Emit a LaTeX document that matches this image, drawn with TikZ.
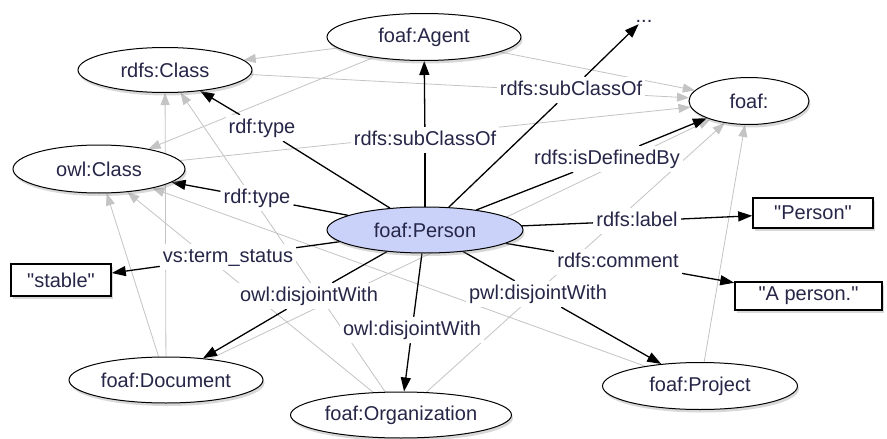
\documentclass[tikz,border=0pt]{standalone}
\usepackage{fontspec}
\setmainfont{Liberation Sans}[Ligatures=TeXOff]
\usetikzlibrary{shapes.geometric,arrows.meta,shadows}
\pgfdeclarelayer{bglayer}
\pgfdeclarelayer{graylayer}
\pgfdeclarelayer{blacklayer}
\pgfsetlayers{bglayer,graylayer,blacklayer,main}
\definecolor{txt}{RGB}{38,38,72}
\definecolor{edgegray}{RGB}{196,196,196}
\definecolor{personfill}{RGB}{202,210,250}
\begin{document}
\begin{tikzpicture}[x=1pt,y=-1pt,
  font=\fontsize{20}{24}\selectfont,
  every node/.style={text=txt},
  cls/.style={ellipse,draw=black,line width=1pt,fill=white,inner sep=0pt,
    drop shadow={shadow xshift=1.5pt,shadow yshift=-3pt,opacity=0.3}},
  lit/.style={rectangle,draw=black,line width=1.6pt,fill=white,inner sep=0pt,
    drop shadow={shadow xshift=2pt,shadow yshift=-3pt,opacity=0.3}},
  lbl/.style={fill=white,inner xsep=3pt,inner ysep=4pt,text height=14pt,text depth=4pt},
  grayedge/.style={draw=edgegray,line width=0.8pt,-{Triangle[length=12pt,width=9pt]}},
  blkline/.style={draw=black,line width=1.3pt},
  blkarrow/.style={blkline,-{Triangle[length=14pt,width=10pt]}}
]
\begin{pgfonlayer}{bglayer}
\fill[white] (0,0) rectangle (887,439);
\end{pgfonlayer}
\useasboundingbox (0,0) rectangle (887,439);

% class nodes
\node[cls,minimum width=194pt,minimum height=47pt] (agent) at (424,37) {foaf:Agent};
\node[cls,minimum width=174pt,minimum height=45pt] (rc) at (165,70) {rdfs:Class};
\node[cls,minimum width=172pt,minimum height=48pt] (oc) at (99,169) {owl:Class};
\node[cls,minimum width=120pt,minimum height=47pt] (foaf) at (749,101) {foaf:};
\node[cls,fill=personfill,minimum width=196pt,minimum height=46pt] (person) at (425,230) {foaf:Person};
\node[cls,minimum width=194pt,minimum height=46pt] (doc) at (166,380) {foaf:Document};
\node[cls,minimum width=221pt,minimum height=46pt] (org) at (401,415) {foaf:Organization};
\node[cls,minimum width=195pt,minimum height=47pt] (proj) at (700,386) {foaf:Project};

% literal nodes
\node[lit,minimum width=120pt,minimum height=30pt] (lperson) at (813,213) {"Person"};
\node[lit,minimum width=147pt,minimum height=28pt] (lcomment) at (808.5,296) {"A person."};
\node[lit,minimum width=100pt,minimum height=32pt] (lstable) at (61,280) {"stable"};
\node[inner sep=2pt,text height=6pt,text depth=0pt] (dots) at (644,19) {...};

% edge labels
\node[lbl] (t1) at (262,128) {rdf:type};
\node[lbl] (t2) at (425,140) {rdfs:subClassOf};
\node[lbl] (t3) at (571,90) {rdfs:subClassOf};
\node[lbl] (t4) at (607,159) {rdfs:isDefinedBy};
\node[lbl] (t5) at (257,198) {rdf:type};
\node[lbl] (t6) at (228,257) {vs:term\_status};
\node[lbl] (t7) at (309,296) {owl:disjointWith};
\node[lbl] (t8) at (412,330) {owl:disjointWith};
\node[lbl] (t9) at (538,294) {pwl:disjointWith};
\node[lbl] (t10) at (637,221) {rdfs:label};
\node[lbl] (t11) at (618,262) {rdfs:comment};

% gray edges
\begin{pgfonlayer}{graylayer}
\draw[grayedge] (agent) -- (rc);
\draw[grayedge] (agent) -- (oc);
\draw[grayedge] (agent) -- (foaf);
\draw[grayedge] (rc) -- (foaf);
\draw[grayedge] (oc) -- (foaf);
\draw[grayedge] (doc) -- (rc);
\draw[grayedge] (doc) -- (oc);
\draw[grayedge] (doc) -- (foaf);
\draw[grayedge] (org) -- (rc);
\draw[grayedge] (org) -- (oc);
\draw[grayedge] (org) -- (foaf);
\draw[grayedge] (proj) -- (oc);
\draw[grayedge] (proj) -- (foaf);
\end{pgfonlayer}

% black edges
\begin{pgfonlayer}{blacklayer}
\draw[blkline] (person) -- (t1);  \draw[blkarrow] (t1) -- (rc);
\draw[blkline] (person) -- (t2);  \draw[blkarrow] (t2) -- (agent);
\draw[blkline] (person) -- (t3);  \draw[blkarrow] (t3) -- (dots);
\draw[blkline] (person) -- (t4);  \draw[blkarrow] (t4) -- (foaf);
\draw[blkline] (person) -- (t5);  \draw[blkarrow] (t5) -- (oc);
\draw[blkline] (person) -- (t6);  \draw[blkarrow] (t6) -- (lstable);
\draw[blkline] (person) -- (t7);  \draw[blkarrow] (t7) -- (doc);
\draw[blkline] (person) -- (t8);  \draw[blkarrow] (t8) -- (org);
\draw[blkline] (person) -- (t9);  \draw[blkarrow] (t9) -- (proj);
\draw[blkline] (person) -- (t10); \draw[blkarrow] (t10) -- (lperson);
\draw[blkline] (person) -- (t11); \draw[blkarrow] (t11) -- (lcomment);
\end{pgfonlayer}
\end{tikzpicture}
\end{document}
